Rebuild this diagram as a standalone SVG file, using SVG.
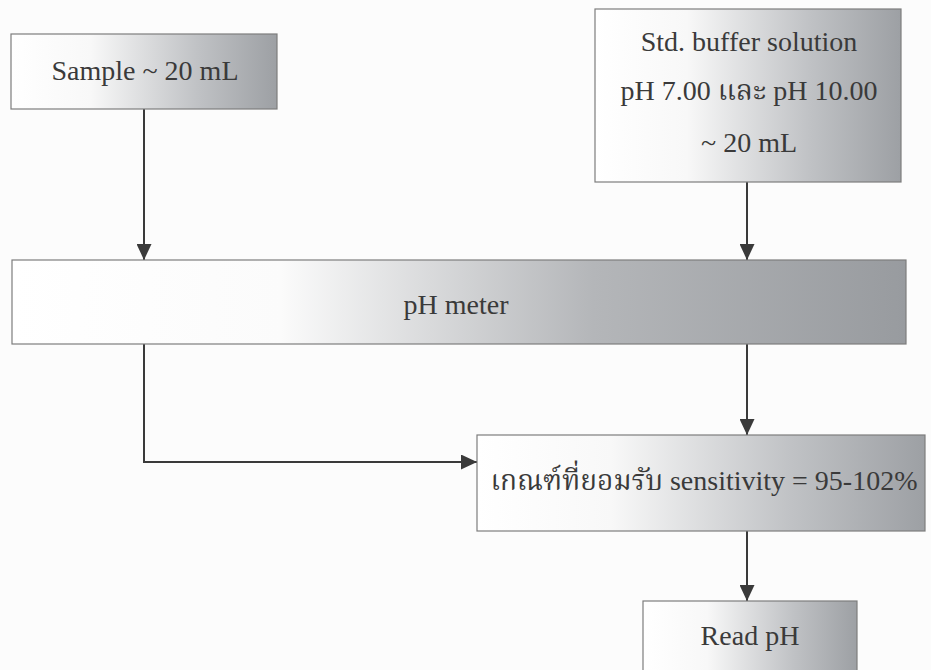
<svg xmlns="http://www.w3.org/2000/svg" width="931" height="670" viewBox="0 0 931 670">
  <defs>
    <!-- left-to-right shading used on every box -->
    <linearGradient id="shade" x1="0" y1="0" x2="1" y2="0">
      <stop offset="0" stop-color="#ffffff"/>
      <stop offset="0.3" stop-color="#f8f8f8"/>
      <stop offset="0.7" stop-color="#c0c2c5"/>
      <stop offset="1" stop-color="#9da0a4"/>
    </linearGradient>
    <linearGradient id="shadeWide" x1="0" y1="0" x2="1" y2="0">
      <stop offset="0" stop-color="#ffffff"/>
      <stop offset="0.3" stop-color="#fbfbfb"/>
      <stop offset="0.65" stop-color="#b4b6b9"/>
      <stop offset="1" stop-color="#989b9f"/>
    </linearGradient>
    <marker id="arrow" viewBox="0 0 16 15" refX="16" refY="7.5" markerWidth="16" markerHeight="15" markerUnits="userSpaceOnUse" orient="auto">
      <path d="M0,0 L16,7.5 L0,15 Z" fill="#3a3a3a"/>
    </marker>
  </defs>
  <style>
    .box { stroke: #7d7d7d; stroke-width: 1.2; }
    .label { font-family: "Liberation Serif", "Noto Serif Thai", "Noto Sans Thai", serif; font-size: 28px; fill: #3a3a3a; text-anchor: middle; }
    .link { fill: none; stroke: #3a3a3a; stroke-width: 2; marker-end: url(#arrow); }
  </style>
  <rect width="931" height="670" fill="#fcfcfc"/>

  <g id="connectors">
    <path class="link" d="M144,109 V260"/>
    <path class="link" d="M747,182 V260"/>
    <path class="link" d="M144,344 V462 H477"/>
    <path class="link" d="M747,344 V435"/>
    <path class="link" d="M747,531 V601"/>
  </g>

  <g id="sample">
    <rect class="box" x="11" y="34" width="266" height="75" fill="url(#shade)"/>
    <text class="label" x="145" y="80">Sample ~ 20 mL</text>
  </g>

  <g id="buffer">
    <rect class="box" x="595" y="9" width="306" height="173" fill="url(#shade)"/>
    <text class="label" x="749" y="51">Std. buffer solution</text>
    <text class="label" x="749" y="100">pH 7.00 และ pH 10.00</text>
    <text class="label" x="749" y="152">~ 20 mL</text>
  </g>

  <g id="ph-meter">
    <rect class="box" x="12" y="260" width="894" height="84" fill="url(#shadeWide)"/>
    <text class="label" x="456" y="314">pH meter</text>
  </g>

  <g id="criteria">
    <rect class="box" x="477" y="435" width="448" height="96" fill="url(#shade)"/>
    <text class="label" x="704" y="490">เกณฑ์ที่ยอมรับ sensitivity = 95-102%</text>
  </g>

  <g id="read-ph">
    <rect class="box" x="643" y="601" width="214" height="80" fill="url(#shade)"/>
    <text class="label" x="750" y="645">Read pH</text>
  </g>
</svg>
